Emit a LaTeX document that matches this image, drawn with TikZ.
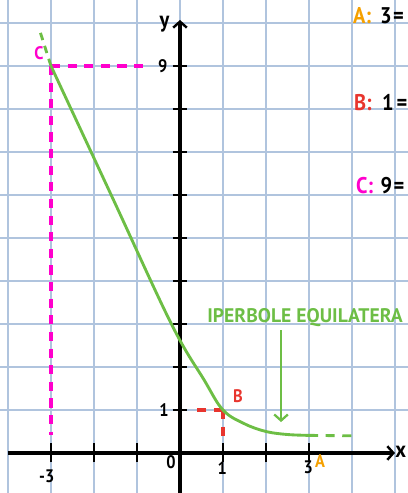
\documentclass[tikz,border=0pt]{standalone}
\usepackage{fontspec}
\setmainfont{PT Sans}
\newfontfamily\manofont[FakeStretch=0.9]{PT Sans}
\usetikzlibrary{arrows.meta}
\definecolor{griglia}{RGB}{176,196,222}
\definecolor{verde}{RGB}{109,190,69}
\definecolor{fucsia}{RGB}{255,0,204}
\definecolor{rosso}{RGB}{232,53,46}
\definecolor{arancio}{RGB}{245,160,0}
\tikzset{
    quadretto/.style={draw=griglia, line width=0.9pt},
    asse/.style={draw=black, line width=2pt, -{Straight Barb[length=4pt, width=9pt, line width=1.6pt]}},
    tacca/.style={draw=black, line width=1.8pt},
    curva/.style={draw=verde, line width=1.9pt},
    tratteggio/.style={line width=2pt, dash pattern=on 6pt off 5pt},
    freccia/.style={draw=verde, line width=1.8pt, -{Straight Barb[length=4pt, width=9pt, line width=1.5pt]}},
    etichetta/.style={font=\manofont\bfseries\fontsize{12}{14}\selectfont},
    grande/.style={font=\manofont\bfseries\fontsize{15}{17}\selectfont}
}

\begin{document}
\begin{tikzpicture}
    \useasboundingbox (-4.186,-0.930) rectangle (5.302,10.535);
    \clip (-4.186,-0.930) rectangle (5.302,10.535);
    % Quadretti
    \foreach \k in {-4,...,5}
        \draw[quadretto] (\k,-0.93) -- (\k,10.535);
    \foreach \j in {1,...,10}
        \draw[quadretto] (-4.186,\j) -- (5.302,\j);
    % Punti
    \coordinate (O) at (0,0);
    \coordinate (C) at (-3,9);
    \coordinate (B) at (1,1);
    \coordinate (A) at (3,0.41);
    \coordinate (Cx) at (-3,0.42);
    \coordinate (Cy) at (-0.7,9);
    \coordinate (Bx) at (1,0.23);
    \coordinate (By) at (0.4,1);
    \coordinate (Csu) at (-3.28,9.88);
    \coordinate (Afine) at (4.0,0.40);
    % Proiezioni
    \draw[tratteggio, fucsia] (C) -- (Cy);
    \draw[tratteggio, fucsia] (C) -- (Cx);
    \draw[tratteggio, rosso] (B) -- (By);
    \draw[tratteggio, rosso] (B) -- (Bx);
    % Assi
    \draw[asse] (-4,0) -- (5.0,0);
    \draw[asse] (0,-0.93) -- (0,10.07);
    \foreach \k in {-3,-2,-1,1,2,3}
        \draw[tacca] (\k,-0.22) -- (\k,0.23);
    \foreach \j in {1,...,9}
        \draw[tacca] (-0.17,\j) -- (0.17,\j);
    % Iperbole
    \draw[curva] plot[smooth, tension=0.6] coordinates {(-3,9) (-1.6,6) (-0.2,3) (0.56,1.7) (1,1) (1.5,0.68) (2,0.5) (2.5,0.43) (3,0.41)};
    \draw[curva, dash pattern=on 5pt off 4pt] (C) -- (Csu);
    \draw[curva, dash pattern=on 6pt off 5pt] (A) -- (Afine);
    % Etichette
    \node[etichetta, text=fucsia] (lC) at (-3.28,9.3) {C};
    \node[etichetta, text=rosso] (lB) at (1.35,1.33) {B};
    \node[etichetta, text=arancio] (lA) at (3.26,-0.19) {A};
    \node[etichetta] (xm3) at (-3.1,-0.53) {-3};
    \node[etichetta] (x0) at (-0.21,-0.21) {0};
    \node[etichetta] (x1) at (0.98,-0.35) {1};
    \node[etichetta] (x3) at (2.98,-0.33) {3};
    \node[etichetta] (y1) at (-0.37,1) {1};
    \node[etichetta] (y9) at (-0.4,9) {9};
    \node[grande] (ly) at (-0.36,9.98) {y};
    \node[grande, anchor=east, inner sep=1pt] (lx) at (5.302,0.02) {x};
    \node[text=verde, anchor=west, inner sep=0pt, font=\bfseries\fontsize{13}{15}\selectfont] (iperbole) at (0.63,3.14) {IPERBOLE EQUILATERA};
    \coordinate (fs) at (2.35,2.86);
    \coordinate (fe) at (2.35,0.72);
    \draw[freccia] (fs) -- (fe);
    % Legenda
    \node[grande, anchor=west, inner sep=0pt] (rA) at (4.02,10.18) {\textcolor{arancio}{A:}\hspace{6pt}3\hspace{1pt}=};
    \node[grande, anchor=west, inner sep=0pt] (rB) at (4.04,8.16) {\textcolor{rosso}{B:}\hspace{7pt}1\hspace{2pt}=};
    \node[grande, anchor=west, inner sep=0pt] (rC) at (4.09,6.21) {\textcolor{fucsia}{C:}\hspace{5pt}9\hspace{1pt}=};
\end{tikzpicture}
\end{document}
